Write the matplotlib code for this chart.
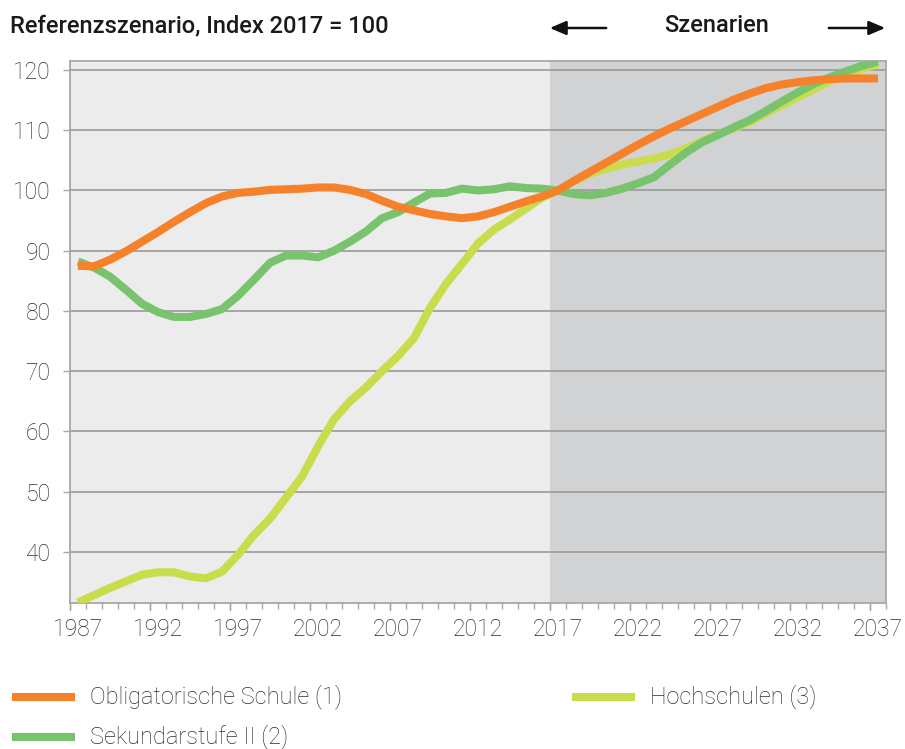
import numpy as np
import matplotlib

matplotlib.use("Agg")
import matplotlib.pyplot as plt
from matplotlib.lines import Line2D

plt.rcParams["font.family"] = ["Roboto", "DejaVu Sans"]

years = list(range(1987, 2038))

obligatorische = [
    87.5, 87.4, 88.5, 89.9, 91.5, 93.1, 94.8, 96.4, 97.9, 99.0,
    99.6, 99.8, 100.1, 100.2, 100.3, 100.5, 100.5, 100.1, 99.4, 98.3,
    97.3, 96.7, 96.1, 95.7, 95.4, 95.7, 96.4, 97.3, 98.2, 99.0,
    100.0, 101.6, 103.1, 104.6, 106.1, 107.6, 109.0, 110.3, 111.5, 112.7,
    113.9, 115.1, 116.1, 117.0, 117.6, 118.0, 118.3, 118.5, 118.6, 118.6,
    118.6,
]
sekundar = [
    88.2, 87.2, 85.7, 83.5, 81.2, 79.8, 79.0, 79.0, 79.5, 80.3,
    82.5, 85.2, 88.0, 89.2, 89.2, 88.9, 90.0, 91.5, 93.2, 95.4,
    96.4, 98.0, 99.5, 99.6, 100.3, 100.0, 100.2, 100.7, 100.4, 100.3,
    100.0, 99.4, 99.2, 99.6, 100.3, 101.2, 102.2, 104.3, 106.3, 108.0,
    109.2, 110.5, 111.7, 113.2, 114.8, 116.3, 117.7, 118.8, 119.8, 120.7,
    121.4,
]
hochschulen = [
    31.6, 32.8, 34.0, 35.1, 36.2, 36.6, 36.6, 35.9, 35.6, 36.7,
    39.5, 42.8, 45.5, 49.0, 52.5, 57.5, 62.0, 65.0, 67.3, 70.0,
    72.5, 75.5, 80.5, 84.5, 87.8, 91.2, 93.5, 95.2, 97.0, 98.8,
    100.0, 101.5, 102.8, 103.6, 104.3, 104.8, 105.3, 106.0, 107.0, 108.2,
    109.3, 110.3, 111.4, 112.8, 114.2, 115.5, 116.8, 118.2, 119.2, 120.2,
    121.0,
]

labels = ["Obligatorische Schule (1)", "Sekundarstufe II (2)", "Hochschulen (3)"]
colors = ["#F5822A", "#79C36E", "#C9DC4C"]
y_ticks = [40, 50, 60, 70, 80, 90, 100, 110, 120]
x_label_years = list(range(1987, 2038, 5))
scenario_start = 2017

fig = plt.figure(figsize=(9.05, 7.49), dpi=100)
ax = fig.add_axes([70 / 905, 1 - 603 / 749, 816 / 905, 542 / 749])

x_min, x_max = years[0] - 0.5, years[-1] + 0.5
ax.set_xlim(x_min, x_max)
ax.set_ylim(31.5, 121.5)
ax.axvspan(x_min, scenario_start - 0.5, color="#EBECEB", zorder=0, lw=0)
ax.axvspan(scenario_start - 0.5, x_max, color="#D1D2D4", zorder=0, lw=0)

for y in y_ticks:
    ax.axhline(y, color="#9A9A9A", lw=1.2, zorder=1)

lw = 5.8
ax.plot(years, hochschulen, color=colors[2], lw=lw, solid_capstyle="butt", zorder=3)
ax.plot(years, sekundar, color=colors[1], lw=lw, solid_capstyle="butt", zorder=4)
ax.plot(years, obligatorische, color=colors[0], lw=lw, solid_capstyle="butt", zorder=5)

for side in ax.spines.values():
    side.set_color("#A8A8A8")
    side.set_linewidth(1.3)

# labels sit on the year centres, tick marks on the year boundaries
ax.set_xticks(x_label_years)
ax.set_xticklabels([str(y) for y in x_label_years])
ax.tick_params(axis="x", which="major", length=0, pad=11)
ax.set_xticks(np.arange(x_min, x_max + 0.1, 1), minor=True)
ax.tick_params(axis="x", which="minor", length=4, width=1, color="#A8A8A8")
for yr in np.arange(x_min, x_max + 0.1, 5):
    ax.plot([yr, yr], [0, -0.012], transform=ax.get_xaxis_transform(),
            color="#A8A8A8", lw=1, clip_on=False)

ax.set_yticks(y_ticks)
ax.tick_params(axis="y", length=5, width=1, color="#A8A8A8", pad=9)
for lab in ax.get_xticklabels() + ax.get_yticklabels():
    lab.set_fontsize(16.5)
    lab.set_fontweight("light")
    lab.set_color("#2E2E2E")

fig.text(10 / 905, 1 - 26 / 749, "Referenzszenario, Index 2017 = 100",
         fontsize=17, fontweight="medium", color="#1A1A1A", va="center")
fig.text(717 / 905, 1 - 26 / 749, "Szenarien",
         fontsize=17, fontweight="medium", color="#1A1A1A", va="center", ha="center")
arrow = dict(arrowstyle="-|>,head_length=0.7,head_width=0.3", color="#111111",
             lw=1.8, mutation_scale=14)
fig.add_artist(matplotlib.patches.FancyArrowPatch(
    (609 / 905, 1 - 28 / 749), (547 / 905, 1 - 28 / 749),
    transform=fig.transFigure, **arrow))
fig.add_artist(matplotlib.patches.FancyArrowPatch(
    (826 / 905, 1 - 28 / 749), (888 / 905, 1 - 28 / 749),
    transform=fig.transFigure, **arrow))

legend_pos = [(12, 697), (12, 737), (572, 697)]
for (lx, ly), name, c in zip(legend_pos, labels, colors):
    fig.add_artist(Line2D([lx / 905, (lx + 63) / 905], [1 - ly / 749] * 2,
                          color=c, lw=lw, solid_capstyle="butt",
                          transform=fig.transFigure))
    fig.text((lx + 78) / 905, 1 - ly / 749, name, fontsize=17,
             fontweight="light", color="#2E2E2E", va="center")

fig.savefig("out.png", dpi=100)
